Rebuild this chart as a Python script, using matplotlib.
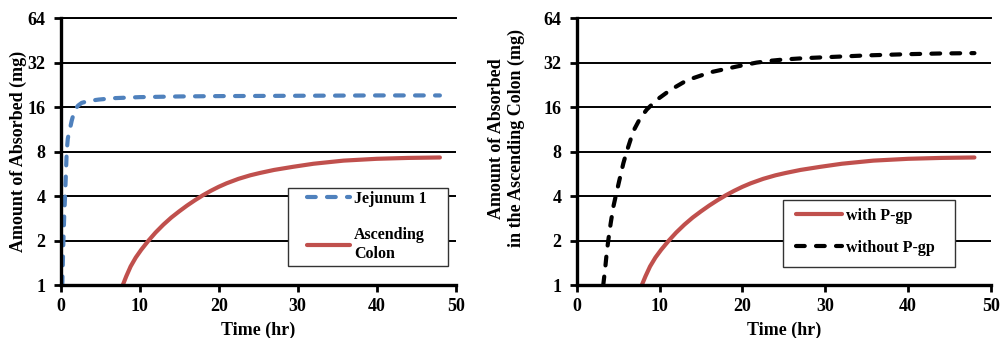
import matplotlib
matplotlib.use('Agg')
import matplotlib.pyplot as plt
from matplotlib.patches import Rectangle

# values (time in hr, amount in mg)
t_jej = [0.2, 0.34, 0.45, 0.55, 0.65, 0.76, 0.9, 1.05, 1.2, 1.4, 1.6, 1.9, 2.2, 2.66, 3.5, 4.8, 6.7, 10, 15, 20, 30, 40, 48]
y_jej = [1.0, 2.0, 3.0, 4.0, 5.5, 8.0, 9.8, 10.8, 11.6, 13.0, 14.2, 15.6, 16.4, 17.1, 17.6, 18.0, 18.4, 18.7, 18.9, 19.0, 19.1, 19.2, 19.2]

t_col = [7.85, 8.3, 8.85, 9.5, 10.2, 11.1, 12, 13, 14, 15, 16, 17, 18, 19, 20, 21, 22.5, 24, 25.2, 27, 29.4, 32, 35.8, 40, 44, 48]
y_col = [1.0, 1.15, 1.34, 1.54, 1.74, 2.0, 2.27, 2.57, 2.87, 3.16, 3.46, 3.76, 4.06, 4.35, 4.63, 4.89, 5.24, 5.54, 5.74, 6.02, 6.32, 6.63, 6.96, 7.16, 7.26, 7.31]

t_nopgp = [3.2, 3.42, 3.62, 3.82, 4.1, 4.42, 4.74, 5.15, 5.63, 6.03, 6.83, 7.64, 8.45, 9.65, 11.3, 13.3, 16.1, 19.3, 21.7, 23.3, 25, 27.5, 30, 35, 40, 44, 48]
y_nopgp = [1.0, 1.27, 1.65, 2.03, 2.62, 3.39, 4.08, 5.13, 6.68, 8.0, 11.0, 13.4, 15.4, 17.9, 20.9, 24.3, 27.5, 30.1, 32.0, 32.9, 33.6, 34.3, 34.8, 35.8, 36.5, 36.9, 37.1]

yticks = [1, 2, 4, 8, 16, 32, 64]
xticks = [0, 10, 20, 30, 40, 50]

blue = '#4F81BD'
red = '#C0504D'

plt.rcParams['font.family'] = ['Liberation Serif', 'DejaVu Serif']
plt.rcParams['font.weight'] = 'bold'

fig = plt.figure(figsize=(10, 3.38), dpi=100)
ax1 = fig.add_axes([0.0607, 0.156, 0.395, 0.7905])
ax2 = fig.add_axes([0.5767, 0.156, 0.4143, 0.7905])


def style(ax):
    ax.set_yscale('log', base=2)
    ax.set_ylim(1, 64)
    ax.set_xlim(0, 50)
    ax.set_yticks(yticks)
    ax.set_yticklabels([str(v) for v in yticks])
    ax.minorticks_off()
    ax.set_xticks(xticks)
    ax.yaxis.grid(True, color='black', lw=1.4)
    ax.set_axisbelow(True)
    ax.spines['right'].set_visible(False)
    ax.spines['top'].set_linewidth(1.4)
    ax.spines['left'].set_linewidth(2.4)
    ax.spines['bottom'].set_linewidth(2.4)
    ax.tick_params(axis='both', direction='out', length=5, width=2, labelsize=13)
    ax.tick_params(axis='y', pad=6)
    ax.tick_params(axis='x', pad=4)
    for lab in ax.get_xticklabels() + ax.get_yticklabels():
        lab.set_fontweight('bold')
    ax.set_xlabel('Time (hr)', fontsize=13, fontweight='bold')
    ax.xaxis.set_label_coords(0.5, -0.135)


def legend_box(ax, x0, y0, x1, y1):
    ax.add_patch(Rectangle((x0, y0), x1 - x0, y1 - y0, transform=ax.transAxes,
                           facecolor='white', edgecolor='#333333', lw=1, zorder=4))


style(ax1)
style(ax2)

ax1.plot(t_jej, y_jej, color=blue, lw=3, dashes=(2.1, 2.7), dash_capstyle='round', label='Jejunum 1')
ax1.plot(t_col, y_col, color=red, lw=3, solid_capstyle='round', label='Ascending\nColon')
ax1.set_ylabel('Amount of Absorbed (mg)', fontsize=13, fontweight='bold')
ax1.yaxis.set_label_coords(-0.085, 0.5)
legend_box(ax1, 0.5754, 0.0722, 0.9805, 0.364)
leg1 = ax1.legend(loc='upper left', bbox_to_anchor=(0.6228, 0.3547), borderaxespad=0, borderpad=0,
                  handlelength=2.7, handletextpad=0.25, labelspacing=1.3, frameon=False,
                  prop={'weight': 'bold', 'size': 11.5})
leg1.set_zorder(5)

ax2.plot(t_col, y_col, color=red, lw=3, solid_capstyle='round', label='with P-gp')
ax2.plot(t_nopgp, y_nopgp, color='black', lw=3, dashes=(2.1, 2.7), dash_capstyle='round', label='without P-gp')
ax2.set_ylabel('Amount of Absorbed\nin the Ascending Colon (mg)', fontsize=13, fontweight='bold')
ax2.yaxis.set_label_coords(-0.125, 0.55)
legend_box(ax2, 0.498, 0.068, 0.913, 0.319)
leg2 = ax2.legend(loc='upper left', bbox_to_anchor=(0.5293, 0.29), borderaxespad=0, borderpad=0,
                  handlelength=2.9, handletextpad=0.25, labelspacing=1.0, frameon=False,
                  prop={'weight': 'bold', 'size': 11.5})
leg2.set_zorder(5)

fig.savefig('out.png', dpi=100)
